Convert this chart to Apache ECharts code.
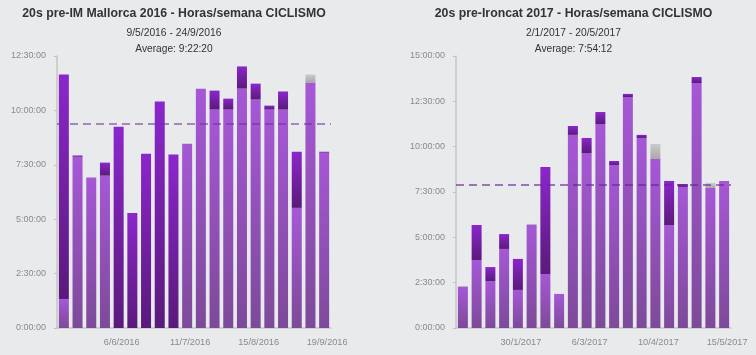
<!DOCTYPE html>
<html><head><meta charset="utf-8">
<script src="https://cdn.jsdelivr.net/npm/echarts@6/dist/echarts.min.js"></script>
<style>html,body{margin:0;padding:0;background:#e9eaec;}#c{width:756px;height:355px;}</style>
</head><body><div id="c"></div>
<script>
// ---- data (hours per week) ----
const leftTitle = "20s pre-IM Mallorca 2016 - Horas/semana CICLISMO";
const leftRange = "9/5/2016 - 24/9/2016";
const leftAvgText = "Average: 9:22:20";
const leftAvg = 9.3722;
const leftWeeks = ["9/5/2016","16/5/2016","23/5/2016","30/5/2016","6/6/2016","13/6/2016","20/6/2016","27/6/2016","4/7/2016","11/7/2016","18/7/2016","25/7/2016","1/8/2016","8/8/2016","15/8/2016","22/8/2016","29/8/2016","5/9/2016","12/9/2016","19/9/2016"];
const leftLight = [1.33, 7.87, 6.92, 7.00, 0, 0, 0, 0, 0, 8.47, 11.0, 10.04, 10.04, 11.0, 10.50, 10.04, 10.04, 5.52, 11.28, 8.06];
const leftDark  = [10.32, 0.06, 0, 0.60, 9.25, 5.29, 8.01, 10.41, 7.97, 0, 0, 0.87, 0.50, 1.02, 0.73, 0.18, 0.83, 2.58, 0, 0.04];
const leftGrey  = [0, 0, 0, 0, 0, 0, 0, 0, 0, 0, 0, 0, 0, 0, 0, 0, 0, 0, 0.37, 0];

const rightTitle = "20s pre-Ironcat 2017 - Horas/semana CICLISMO";
const rightRange = "2/1/2017 - 20/5/2017";
const rightAvgText = "Average: 7:54:12";
const rightAvg = 7.9033;
const rightWeeks = ["2/1/2017","9/1/2017","16/1/2017","23/1/2017","30/1/2017","6/2/2017","13/2/2017","20/2/2017","27/2/2017","6/3/2017","13/3/2017","20/3/2017","27/3/2017","3/4/2017","10/4/2017","17/4/2017","24/4/2017","1/5/2017","8/5/2017","15/5/2017"];
const rightLight = [2.26, 3.75, 2.59, 4.36, 2.10, 5.68, 2.98, 1.88, 10.65, 9.65, 11.25, 8.99, 12.74, 10.48, 9.32, 5.68, 7.78, 13.51, 7.72, 8.11];
const rightDark  = [0, 1.93, 0.77, 0.82, 1.71, 0, 5.90, 0, 0.49, 0.83, 0.66, 0.22, 0.17, 0.17, 0, 2.43, 0.16, 0.33, 0, 0];
const rightGrey  = [0.06, 0, 0, 0, 0, 0.06, 0, 0, 0, 0, 0, 0, 0, 0, 0.83, 0, 0, 0, 0.28, 0];

const leftYMax = 12.5, rightYMax = 15, yStep = 2.5;

// ---- chart ----
const FONT = "'Liberation Sans', Arial, sans-serif";
function fmt(h){ const s=Math.round(h*3600); const hh=Math.floor(s/3600), mm=Math.floor(s%3600/60), ss=s%60; return hh+":"+String(mm).padStart(2,"0")+":"+String(ss).padStart(2,"0"); }
function grad(a,b){ return new echarts.graphic.LinearGradient(0,0,0,1,[{offset:0,color:a},{offset:1,color:b}]); }
const cLight = grad('#a657d6','#7d4a99');
const cDark = grad('#8c26cc','#5a1a7b');
const cGrey = grad('#cbcbcb','#a8a8a8');

const chart = echarts.init(document.getElementById('c'), null, {renderer:'canvas'});
function xAx(gi, cats){ return {type:'category', gridIndex:gi, data:cats, offset:2,
  axisLine:{lineStyle:{color:'#c6c6c6',width:1.5}}, axisTick:{show:false},
  axisLabel:{interval:(i)=>i%5===4, color:'#8a8a8a', fontSize:9.2, fontFamily:FONT, margin:8, padding:[0,0,0,6]}}; }
function yAx(gi, max){ return {type:'value', gridIndex:gi, min:0, max:max, interval:yStep,
  splitLine:{show:false}, axisLine:{show:true, lineStyle:{color:'#c6c6c6',width:1.5}},
  axisTick:{show:true, length:3, lineStyle:{color:'#c0c0c0'}},
  axisLabel:{formatter:fmt, color:'#8a8a8a', fontSize:9, fontFamily:FONT, margin:11}}; }
function bars(gi, stack, light, dark, grey, avg, lineColor, lineW){
  return [
    {type:'bar', xAxisIndex:gi, yAxisIndex:gi, stack:stack, data:light, barWidth:10, itemStyle:{color:cLight},
     markLine:{silent:true, symbol:['none','none'], label:{show:false}, z:5,
       lineStyle:{type:[8,5], color:lineColor, width:lineW}, data:[{yAxis:avg}]}},
    {type:'bar', xAxisIndex:gi, yAxisIndex:gi, stack:stack, data:dark, barWidth:10, itemStyle:{color:cDark}},
    {type:'bar', xAxisIndex:gi, yAxisIndex:gi, stack:stack, data:grey, barWidth:10, itemStyle:{color:cGrey}}
  ];
}
function txt(t, x, y, size, bold){ return {type:'text', x:x, y:y, style:{text:t, textAlign:'center', textVerticalAlign:'middle', fill:'#333', font:(bold?'bold ':'')+size+'px '+FONT}}; }

chart.setOption({
  backgroundColor:'#e9eaec',
  animation:false,
  grid:[{left:57, top:56, width:274, height:272}, {left:456, top:56, width:275, height:272}],
  xAxis:[xAx(0,leftWeeks), xAx(1,rightWeeks)],
  yAxis:[yAx(0,leftYMax), yAx(1,rightYMax)],
  series:[].concat(
    bars(0,'L',leftLight,leftDark,leftGrey,leftAvg,'rgba(110,50,160,0.55)',2),
    bars(1,'R',rightLight,rightDark,rightGrey,rightAvg,'rgba(105,35,150,0.8)',1.5)
  ),
  graphic:[
    txt(leftTitle,174,14,12.3,true), txt(leftRange,174,33,10.3,false), txt(leftAvgText,174,49,10.2,false),
    txt(rightTitle,573.5,14,12.3,true), txt(rightRange,573.5,33,10.3,false), txt(rightAvgText,573.5,49,10.2,false)
  ]
});
</script></body></html>
